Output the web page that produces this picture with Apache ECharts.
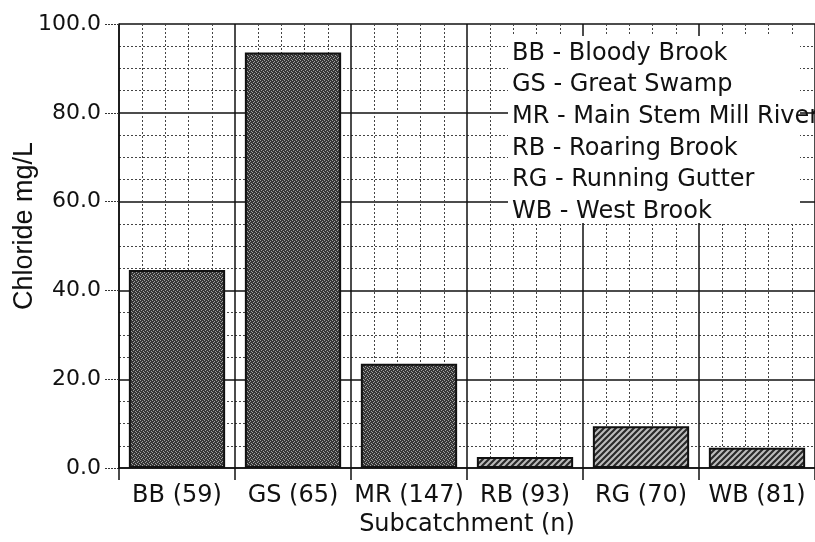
<!DOCTYPE html>
<html>
<head>
<meta charset="utf-8">
<script src="https://cdn.jsdelivr.net/npm/echarts@6/dist/echarts.min.js"></script>
<style>
html,body{margin:0;padding:0;background:#fff;}
#main{width:815px;height:542px;}
</style>
</head>
<body>
<div id="main"></div>
<script>
var categories = ['BB (59)', 'GS (65)', 'MR (147)', 'RB (93)', 'RG (70)', 'WB (81)'];
var chlorideValues = [44.6, 93.6, 23.5, 2.5, 9.4, 4.6];
var legendLines = ['BB - Bloody Brook', 'GS - Great Swamp', 'MR - Main Stem Mill River', 'RB - Roaring Brook', 'RG - Running Gutter', 'WB - West Brook'];
var yMin = 0, yMax = 100, yStep = 20;

function makeStipple() {
  var c = document.createElement('canvas');
  c.width = 4; c.height = 4;
  var g = c.getContext('2d');
  g.fillStyle = '#363636';
  g.fillRect(0, 0, 4, 4);
  g.fillStyle = '#a0a0a0';
  g.fillRect(0, 0, 1, 1);
  g.fillRect(2, 1, 1, 1);
  g.fillRect(1, 2, 1, 1);
  g.fillRect(3, 3, 1, 1);
  return c;
}
function makeHatch() {
  var s = 6;
  var c = document.createElement('canvas');
  c.width = s; c.height = s;
  var g = c.getContext('2d');
  g.fillStyle = '#bdbdbd';
  g.fillRect(0, 0, s, s);
  g.strokeStyle = '#2a2a2a';
  g.lineWidth = 2.2;
  g.beginPath();
  g.moveTo(-1, 1); g.lineTo(1, -1);
  g.moveTo(0, s); g.lineTo(s, 0);
  g.moveTo(s - 1, s + 1); g.lineTo(s + 1, s - 1);
  g.stroke();
  return c;
}
var stipple = makeStipple();
var hatch = makeHatch();

var barData = chlorideValues.map(function (v, i) {
  return {
    value: v,
    itemStyle: {
      color: { image: i < 3 ? stipple : hatch, repeat: 'repeat' },
      borderColor: '#111',
      borderWidth: 2
    }
  };
});

var chart = echarts.init(document.getElementById('main'), null, { renderer: 'canvas' });
var graphics = [
  {
    type: 'text', x: 25, y: 226, rotation: Math.PI / 2, z: 100,
    style: { text: 'Chloride mg/L', fontFamily: 'Liberation Sans', fontSize: 27, fill: '#111', align: 'center', verticalAlign: 'middle' }
  },
  {
    type: 'rect', z: 90,
    shape: { x: 508, y: 36, width: 292, height: 187 },
    style: { fill: '#fff' }
  }
];
var rowY = [53.5, 85, 117, 149, 180, 212];
legendLines.forEach(function (t, i) {
  graphics.push({
    type: 'text', x: 512, y: rowY[i], z: 100,
    style: { text: t, fontFamily: 'DejaVu Sans', fontSize: 24, fill: '#111', align: 'left', verticalAlign: 'middle' }
  });
});

chart.setOption({
  animation: false,
  backgroundColor: '#fff',
  grid: { left: 119, right: -5, top: 24, bottom: 72.5, containLabel: false },
  xAxis: [
    {
      type: 'category',
      data: categories,
      boundaryGap: true,
      name: 'Subcatchment (n)',
      nameLocation: 'middle',
      nameGap: 44,
      nameTextStyle: { fontFamily: 'DejaVu Sans', fontSize: 24, color: '#111' },
      axisLine: { show: true, lineStyle: { color: '#111', width: 1.5 } },
      axisTick: { show: true, length: 12, inside: false, interval: 0, lineStyle: { color: '#111', width: 1.5 } },
      axisLabel: { fontFamily: 'DejaVu Sans', fontSize: 24, color: '#111', margin: 16, interval: 0 },
      splitLine: { show: false }
    },
    {
      type: 'value',
      min: 0, max: 6, interval: 1,
      position: 'bottom',
      axisLine: { show: false },
      axisTick: { show: false },
      axisLabel: { show: false },
      splitLine: { show: true, lineStyle: { color: '#111', width: 1.5, type: 'solid' } },
      minorTick: { show: false, splitNumber: 5 },
      minorSplitLine: { show: true, lineStyle: { color: '#444', width: 1, type: [2, 2] } }
    }
  ],
  yAxis: {
    type: 'value',
    min: yMin, max: yMax, interval: yStep,
    axisLine: { show: true, lineStyle: { color: '#111', width: 1.5 } },
    axisTick: { show: true, length: 14, lineStyle: { color: '#333', width: 1, type: [2, 1] } },
    axisLabel: {
      fontFamily: 'DejaVu Sans', fontSize: 22, color: '#111', margin: 18,
      formatter: function (v) { return v.toFixed(1); }
    },
    splitLine: { show: true, lineStyle: { color: '#111', width: 1.5 } },
    minorTick: { show: false, splitNumber: 4 },
    minorSplitLine: { show: true, lineStyle: { color: '#444', width: 1, type: [2, 2] } }
  },
  series: [{
    type: 'bar',
    xAxisIndex: 0,
    data: barData,
    barWidth: '83%',
    z: 5
  }],
  graphic: graphics
});
</script>
</body>
</html>
